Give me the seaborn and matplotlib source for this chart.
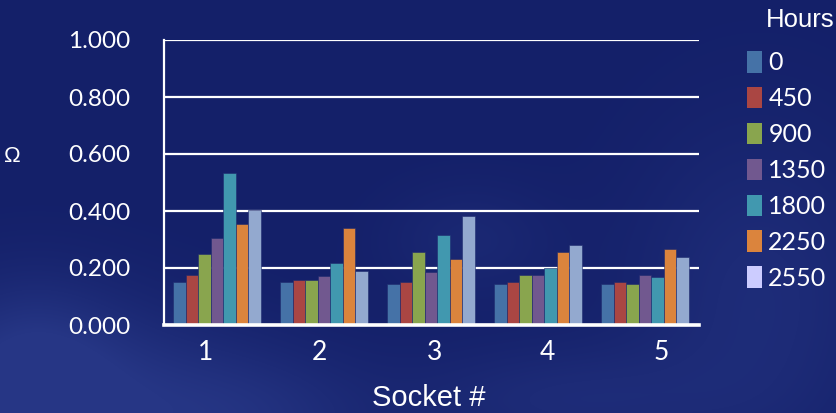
import matplotlib
matplotlib.use("Agg")
import matplotlib.pyplot as plt
import matplotlib.patches as mpatches
import numpy as np
import pandas as pd
import seaborn as sns

# Socket resistance (ohms) measured at successive aging intervals
sockets = ["1", "2", "3", "4", "5"]
hours = ["0", "450", "900", "1350", "1800", "2250", "2550"]
r_0 = [0.152, 0.152, 0.145, 0.145, 0.145]
r_450 = [0.175, 0.158, 0.152, 0.152, 0.152]
r_900 = [0.248, 0.158, 0.255, 0.175, 0.145]
r_1350 = [0.304, 0.171, 0.187, 0.175, 0.175]
r_1800 = [0.534, 0.219, 0.316, 0.200, 0.170]
r_2250 = [0.353, 0.340, 0.230, 0.255, 0.267]
r_2550 = [0.403, 0.188, 0.382, 0.280, 0.237]
y_ticks = [0.0, 0.2, 0.4, 0.6, 0.8, 1.0]

series = [r_0, r_450, r_900, r_1350, r_1800, r_2250, r_2550]
df = pd.DataFrame(
    [(s, h, v) for h, vals in zip(hours, series) for s, v in zip(sockets, vals)],
    columns=["Socket", "Hours", "Ohm"],
)

bar_colors = ["#4572A7", "#AA4643", "#89A54E", "#71588F", "#4198AF", "#DB843D", "#93A9CF"]
legend_colors = bar_colors[:-1] + ["#CCCCFF"]
bg = "#142069"

sns.set_theme(style="white")
plt.rcParams["font.family"] = ["Lato", "DejaVu Sans"]
arial = ["Liberation Sans", "DejaVu Sans"]

fig = plt.figure(figsize=(8.36, 4.13), dpi=100, facecolor=bg)

# slide backdrop: deep blue with a few faint cloud patches
H, W = 413, 836
yy, xx = np.mgrid[0:H, 0:W]
base = np.array([20, 32, 105], dtype=float)
haze = np.zeros((H, W))
for cx, cy, sx, sy, a in [(60, 400, 120, 70, 0.9), (250, 420, 90, 50, 0.6),
                          (560, 400, 110, 40, 0.5), (760, 300, 90, 120, 0.55),
                          (470, 240, 60, 40, 0.35), (30, 360, 60, 60, 0.5)]:
    haze += a * np.exp(-(((xx - cx) / sx) ** 2 + ((yy - cy) / sy) ** 2) / 2)
haze = np.clip(haze, 0, 1)
img = base[None, None, :] + haze[..., None] * np.array([18, 22, 28])[None, None, :]
bgax = fig.add_axes([0, 0, 1, 1], zorder=-1)
bgax.imshow(img.astype(np.uint8), aspect="auto", interpolation="bilinear")
bgax.set_axis_off()

ax = fig.add_axes([163.5 / 836, 1 - 325 / 413, 535 / 836, 285 / 413])
ax.set_facecolor("none")

sns.barplot(
    data=df, x="Socket", y="Ohm", hue="Hours", hue_order=hours,
    palette=bar_colors, width=0.82, gap=0.0, ax=ax, legend=False,
    edgecolor="#1e2a6e", linewidth=0.4, saturation=1.0,
)

ax.set_ylim(0, 1.0)
ax.set_yticks(y_ticks)
ax.set_yticklabels([f"{t:.3f}" for t in y_ticks])
ax.set_xlim(-0.5, len(sockets) - 0.5)
# category labels sit on a slightly wider pitch than the bar groups
ax.set_xticks([-0.11, 0.96, 2.03, 3.09, 4.15], labels=sockets)
ax.yaxis.grid(True, color="white", linewidth=1.6)
ax.set_axisbelow(True)
for side in ("top", "right"):
    ax.spines[side].set_visible(False)
ax.spines["left"].set_color("white")
ax.spines["left"].set_linewidth(1.6)
ax.spines["bottom"].set_color("white")
ax.spines["bottom"].set_linewidth(2.6)
ax.tick_params(axis="both", colors="white", length=0)
ax.tick_params(axis="y", labelsize=17.5, pad=24)
ax.tick_params(axis="x", labelsize=19, pad=11)
ax.set_xlabel("")
ax.set_ylabel("")

fig.text(12 / 836, 1 - 157 / 413, "Ω", color="white", fontsize=16,
         ha="center", va="center", family=arial)
fig.text(429 / 836, 1 - 398 / 413, "Socket #", color="white", fontsize=21,
         ha="center", va="center", family=arial)
fig.text(834 / 836, 1 - 20 / 413, "Hours", color="white", fontsize=18.5,
         ha="right", va="center", family=arial)

handles = [mpatches.Patch(facecolor=c, edgecolor="none", label=h)
           for c, h in zip(legend_colors, hours)]
leg = fig.legend(
    handles=handles, loc="upper left", bbox_to_anchor=(747 / 836, 1 - 51 / 413),
    frameon=False, fontsize=18, labelcolor="white",
    handlelength=0.6, handleheight=0.95, handletextpad=0.25, labelspacing=0.5,
    borderaxespad=0, borderpad=0,
)

fig.savefig("out.png", dpi=100, facecolor=bg)
